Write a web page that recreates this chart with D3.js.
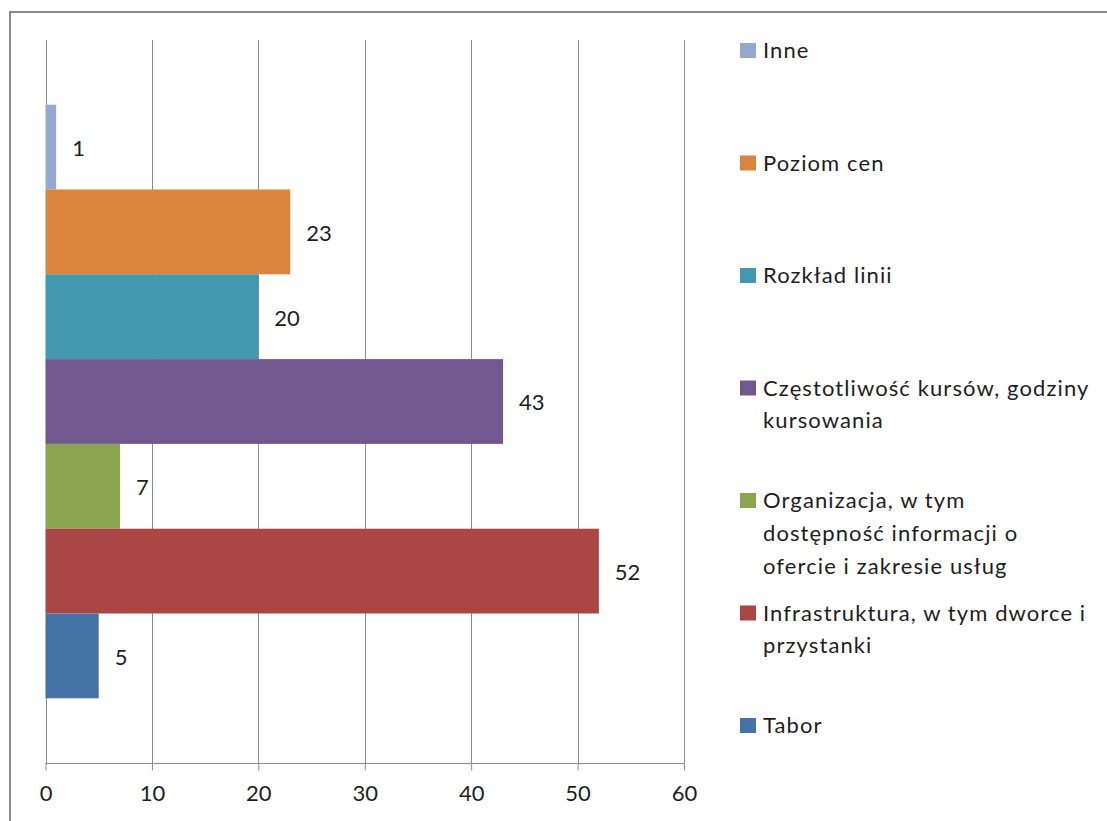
<!DOCTYPE html>
<html>
<head>
<meta charset="utf-8">
<script src="https://cdn.jsdelivr.net/npm/d3@7"></script>
<style>
  html, body { margin: 0; padding: 0; background: #fff; }
  svg { display: block; }
  text { font-family: Lato, "Open Sans", sans-serif; fill: #1e1e1e; }
</style>
</head>
<body>
<svg id="chart" width="1107" height="821"></svg>
<script>
// Series (top to bottom as drawn)
const series = ["Inne", "Poziom cen", "Rozkład linii", "Częstotliwość kursów, godziny kursowania",
  "Organizacja, w tym dostępność informacji o ofercie i zakresie usług",
  "Infrastruktura, w tym dworce i przystanki", "Tabor"];
const values = [1, 23, 20, 43, 7, 52, 5];
const colors = ["#93A9CF", "#DB843D", "#4198AF", "#71588F", "#89A54E", "#AA4643", "#4572A7"];
const legendLines = [
  ["Inne"],
  ["Poziom cen"],
  ["Rozkład linii"],
  ["Częstotliwość kursów, godziny", "kursowania"],
  ["Organizacja, w tym", "dostępność informacji o", "ofercie i zakresie usług"],
  ["Infrastruktura, w tym dworce i", "przystanki"],
  ["Tabor"]
];
const xTicks = [0, 10, 20, 30, 40, 50, 60];

const svg = d3.select("#chart");
const W = 1107, H = 821;
const FS = 22;

// outer frame (extends beyond right/bottom edges)
svg.append("rect").attr("x", 10).attr("y", 12).attr("width", W + 20).attr("height", H + 20)
  .attr("fill", "#fff").attr("stroke", "#8a8a8a").attr("stroke-width", 2);

const plotTop = 40, plotBottom = 763;
const x = d3.scaleLinear().domain([0, 60]).range([45.5, 684]);
const y = d3.scaleBand().domain(series).range([plotTop, plotBottom]).paddingInner(0).paddingOuter(0.763);

// gridlines
svg.append("g").selectAll("line").data(xTicks).join("line")
  .attr("x1", d => Math.round(x(d)) + 0.5).attr("x2", d => Math.round(x(d)) + 0.5)
  .attr("y1", plotTop).attr("y2", plotBottom)
  .attr("stroke", "#8c8c8c").attr("stroke-width", 1);

// bars
svg.append("g").selectAll("rect").data(series).join("rect")
  .attr("x", x(0)).attr("y", d => y(d))
  .attr("width", (d, i) => x(values[i]) - x(0))
  .attr("height", y.bandwidth())
  .attr("fill", (d, i) => colors[i]);

// x axis
const axis = d3.axisBottom(x).tickValues(xTicks).tickSize(7).tickPadding(15).tickFormat(d3.format("d"));
const gx = svg.append("g").attr("transform", `translate(0,${plotBottom + 0.5})`).call(axis);
gx.select(".domain").attr("stroke", "#8c8c8c").attr("d", `M${x(0)},0H${x(60)}`);
gx.selectAll(".tick line").attr("stroke", "#8c8c8c");
gx.selectAll(".tick text").attr("font-size", FS).attr("font-family", "Lato, 'Open Sans', sans-serif").attr("fill", "#1e1e1e");

// value labels
svg.append("g").selectAll("text").data(series).join("text")
  .attr("x", (d, i) => x(values[i]) + 16)
  .attr("y", d => y(d) + y.bandwidth() / 2)
  .attr("dy", "0.4em")
  .attr("font-size", FS)
  .text((d, i) => values[i]);

// legend
const lg = svg.append("g");
const items = lg.selectAll("g").data(series).join("g")
  .attr("transform", (d, i) => `translate(740,${58 + i * 112.5})`);
items.append("rect").attr("x", 0).attr("y", -15).attr("width", 16).attr("height", 15)
  .attr("fill", (d, i) => colors[i]);
items.each(function(d, i) {
  const t = d3.select(this).append("text").attr("x", 23).attr("y", 0)
    .attr("font-size", FS).attr("letter-spacing", 1.1);
  legendLines[i].forEach((ln, j) => {
    t.append("tspan").attr("x", 23).attr("y", j * 32.8).text(ln);
  });
});
</script>
</body>
</html>
